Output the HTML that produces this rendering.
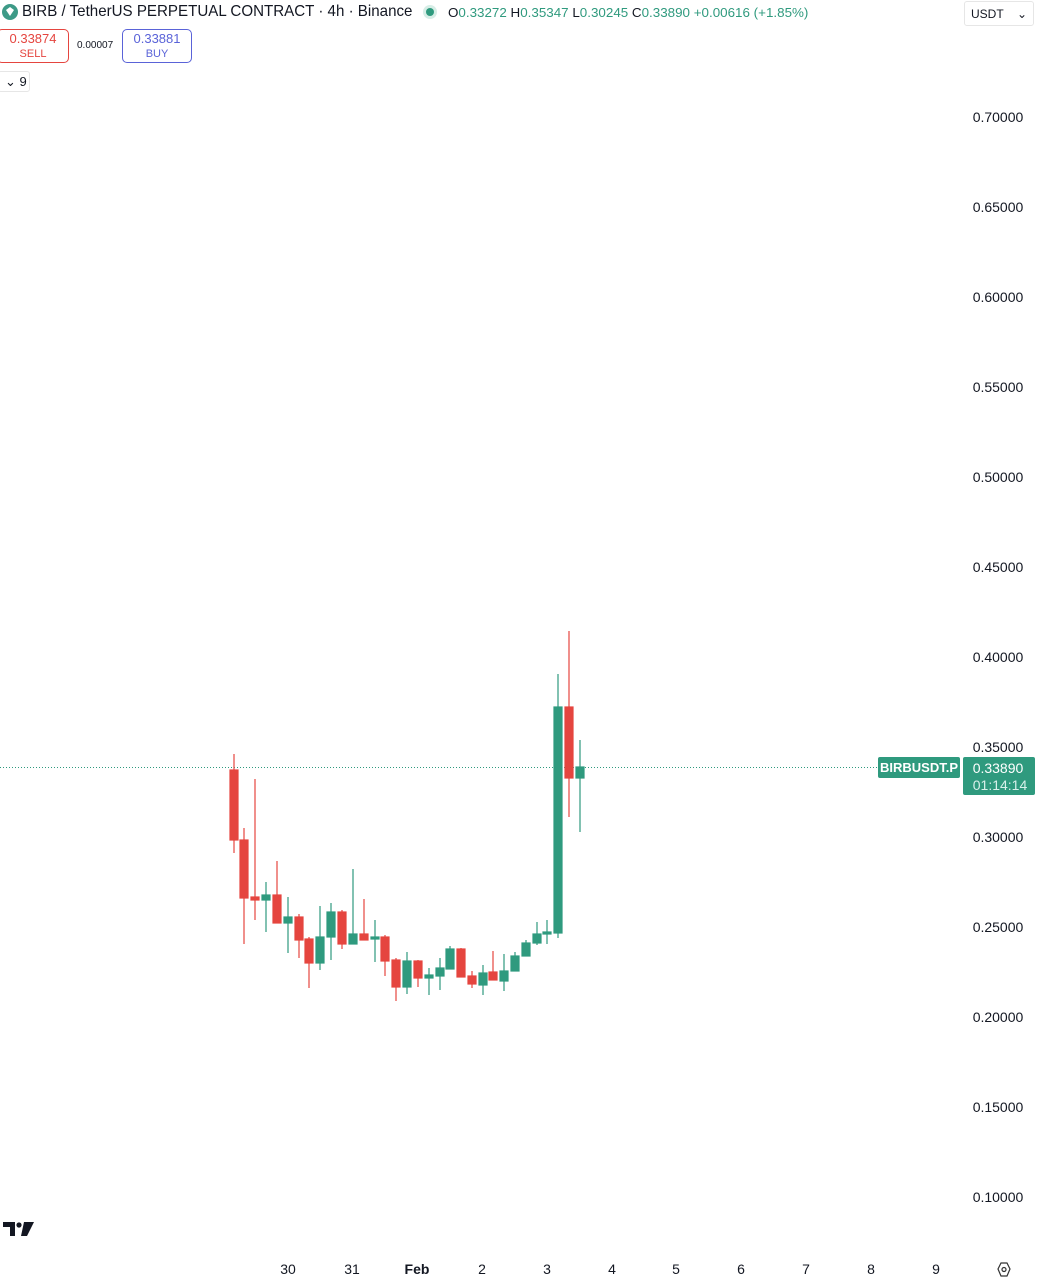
<!DOCTYPE html>
<html><head><meta charset="utf-8"><style>
body{margin:0;width:1037px;height:1280px;background:#fff;font-family:"Liberation Sans",sans-serif;overflow:hidden;position:relative}
.a{position:absolute;white-space:nowrap}
</style></head><body>
<svg class="a" style="left:0;top:0" width="1037" height="1280">
<line x1="0" y1="767.5" x2="878" y2="767.5" stroke="#2f9a7e" stroke-width="1" stroke-dasharray="1,2"/>
<g stroke-width="1.2">
<g stroke="#e5453f" fill="#e5453f">
<line x1="234" y1="754" x2="234" y2="853"/><rect x="230" y="770" width="8" height="70"/>
<line x1="244" y1="828" x2="244" y2="944"/><rect x="240" y="840" width="8" height="58"/>
<line x1="255" y1="779" x2="255" y2="920"/><rect x="251" y="897" width="8" height="3"/>
<line x1="277" y1="861" x2="277" y2="923"/><rect x="273" y="895" width="8" height="28"/>
<line x1="299" y1="914" x2="299" y2="958"/><rect x="295" y="917" width="8" height="23"/>
<line x1="309" y1="937" x2="309" y2="988"/><rect x="305" y="939" width="8" height="24"/>
<line x1="342" y1="910" x2="342" y2="949"/><rect x="338" y="912" width="8" height="32"/>
<line x1="364" y1="899" x2="364" y2="940"/><rect x="360" y="934" width="8" height="6"/>
<line x1="385" y1="935" x2="385" y2="976"/><rect x="381" y="937" width="8" height="24"/>
<line x1="396" y1="958" x2="396" y2="1001"/><rect x="392" y="960" width="8" height="27"/>
<line x1="418" y1="960" x2="418" y2="987"/><rect x="414" y="961" width="8" height="17"/>
<line x1="461" y1="948" x2="461" y2="977"/><rect x="457" y="949" width="8" height="28"/>
<line x1="472" y1="971" x2="472" y2="988"/><rect x="468" y="976" width="8" height="8"/>
<line x1="493" y1="951" x2="493" y2="980"/><rect x="489" y="972" width="8" height="8"/>
<line x1="569" y1="631" x2="569" y2="817"/><rect x="565" y="707" width="8" height="71"/>
</g>
<g stroke="#2f9a7e" fill="#2f9a7e">
<line x1="266" y1="882" x2="266" y2="932"/><rect x="262" y="895" width="8" height="5"/>
<line x1="288" y1="897" x2="288" y2="953"/><rect x="284" y="917" width="8" height="6"/>
<line x1="320" y1="906" x2="320" y2="970"/><rect x="316" y="937" width="8" height="26"/>
<line x1="331" y1="903" x2="331" y2="960"/><rect x="327" y="912" width="8" height="25"/>
<line x1="353" y1="869" x2="353" y2="944"/><rect x="349" y="934" width="8" height="10"/>
<line x1="375" y1="920" x2="375" y2="962"/><rect x="371" y="937" width="8" height="2"/>
<line x1="407" y1="952" x2="407" y2="994"/><rect x="403" y="961" width="8" height="26"/>
<line x1="429" y1="968" x2="429" y2="995"/><rect x="425" y="975" width="8" height="3"/>
<line x1="440" y1="958" x2="440" y2="990"/><rect x="436" y="968" width="8" height="8"/>
<line x1="450" y1="946" x2="450" y2="969"/><rect x="446" y="949" width="8" height="20"/>
<line x1="483" y1="965" x2="483" y2="995"/><rect x="479" y="973" width="8" height="12"/>
<line x1="504" y1="954" x2="504" y2="991"/><rect x="500" y="971" width="8" height="10"/>
<line x1="515" y1="952" x2="515" y2="971"/><rect x="511" y="956" width="8" height="15"/>
<line x1="526" y1="940" x2="526" y2="956"/><rect x="522" y="943" width="8" height="13"/>
<line x1="537" y1="922" x2="537" y2="945"/><rect x="533" y="934" width="8" height="9"/>
<line x1="547" y1="920" x2="547" y2="944"/><rect x="543" y="932" width="8" height="2"/>
<line x1="558" y1="674" x2="558" y2="938"/><rect x="554" y="707" width="8" height="226"/>
<line x1="580" y1="740" x2="580" y2="832"/><rect x="576" y="767" width="8" height="11"/>
</g></g>
<g font-size="14" fill="#131722" text-anchor="middle">
<text x="998" y="122">0.70000</text><text x="998" y="212">0.65000</text><text x="998" y="302">0.60000</text>
<text x="998" y="392">0.55000</text><text x="998" y="482">0.50000</text><text x="998" y="572">0.45000</text>
<text x="998" y="662">0.40000</text><text x="998" y="752">0.35000</text><text x="998" y="842">0.30000</text>
<text x="998" y="932">0.25000</text><text x="998" y="1022">0.20000</text><text x="998" y="1112">0.15000</text>
<text x="998" y="1202">0.10000</text>
<text x="288" y="1274">30</text><text x="352" y="1274">31</text><text x="417" y="1274" font-weight="bold">Feb</text>
<text x="482" y="1274">2</text><text x="547" y="1274">3</text><text x="612" y="1274">4</text><text x="676" y="1274">5</text>
<text x="741" y="1274">6</text><text x="806" y="1274">7</text><text x="871" y="1274">8</text><text x="936" y="1274">9</text>
</g>
<polygon points="1001,1263 1007,1263 1010,1269 1007,1276 1001,1276 998,1269" fill="none" stroke="#333" stroke-width="1.2"/>
<circle cx="1004" cy="1269.5" r="2" fill="none" stroke="#333" stroke-width="1.2"/>
<rect x="878" y="757" width="82" height="21" rx="2" fill="#2f9a7e"/>
<rect x="963" y="757" width="72" height="38" rx="2" fill="#2f9a7e"/>
<text x="919" y="772" fill="#fff" font-size="13" font-weight="bold" text-anchor="middle">BIRBUSDT.P</text>
<text x="998" y="773" fill="#fff" font-size="14" text-anchor="middle">0.33890</text>
<text x="1000" y="790" fill="#d8f0ea" font-size="14" text-anchor="middle">01:14:14</text>
<circle cx="10" cy="12" r="8" fill="#3d9a87"/><path d="M6,10 L10,7 L14,10 L10,16Z" fill="#fff"/>
<circle cx="430" cy="12" r="7" fill="#d6ede6"/><circle cx="430" cy="12" r="4" fill="#2f9a7e"/>
<path d="M3,1222 H15 V1236 H10 V1227 H3Z" fill="#131722"/>
<circle cx="19" cy="1225" r="2.6" fill="#131722"/>
<path d="M24,1222 H34 L27,1236 H21Z" fill="#131722"/>
</svg>
<div class="a" style="left:22px;top:3px;font-size:16px;color:#131722;transform:scaleX(0.945);transform-origin:0 0">BIRB / TetherUS PERPETUAL CONTRACT · 4h · Binance</div>
<div class="a" style="left:448px;top:5px;font-size:13px;color:#2f9a7e;transform:scaleX(1.03);transform-origin:0 0"><span style="color:#131722">O</span>0.33272 <span style="color:#131722">H</span>0.35347 <span style="color:#131722">L</span>0.30245 <span style="color:#131722">C</span>0.33890 +0.00616 (+1.85%)</div>
<div class="a" style="left:964px;top:1px;width:70px;height:25px;border:1px solid #e6e6e6;border-radius:3px;font-size:12px;line-height:25px;color:#131722;box-sizing:border-box;padding-left:6px">USDT<span style="position:absolute;right:6px">⌄</span></div>
<div class="a" style="left:-3px;top:29px;width:72px;height:34px;border:1px solid #e5453f;border-radius:5px;box-sizing:border-box;text-align:center;color:#e5453f;font-size:13px;line-height:14px;padding-top:2px">0.33874<br><span style="font-size:11px">SELL</span></div>
<div class="a" style="left:77px;top:40px;font-size:10px;color:#131722">0.00007</div>
<div class="a" style="left:122px;top:29px;width:70px;height:34px;border:1px solid #5a63d8;border-radius:5px;box-sizing:border-box;text-align:center;color:#5a63d8;font-size:13px;line-height:14px;padding-top:2px">0.33881<br><span style="font-size:11px">BUY</span></div>
<div class="a" style="left:-2px;top:71px;width:32px;height:21px;border:1px solid #e6e6e6;border-radius:3px;box-sizing:border-box;font-size:13px;line-height:19px;color:#131722;padding-left:6px">⌄ 9</div>
</body></html>
